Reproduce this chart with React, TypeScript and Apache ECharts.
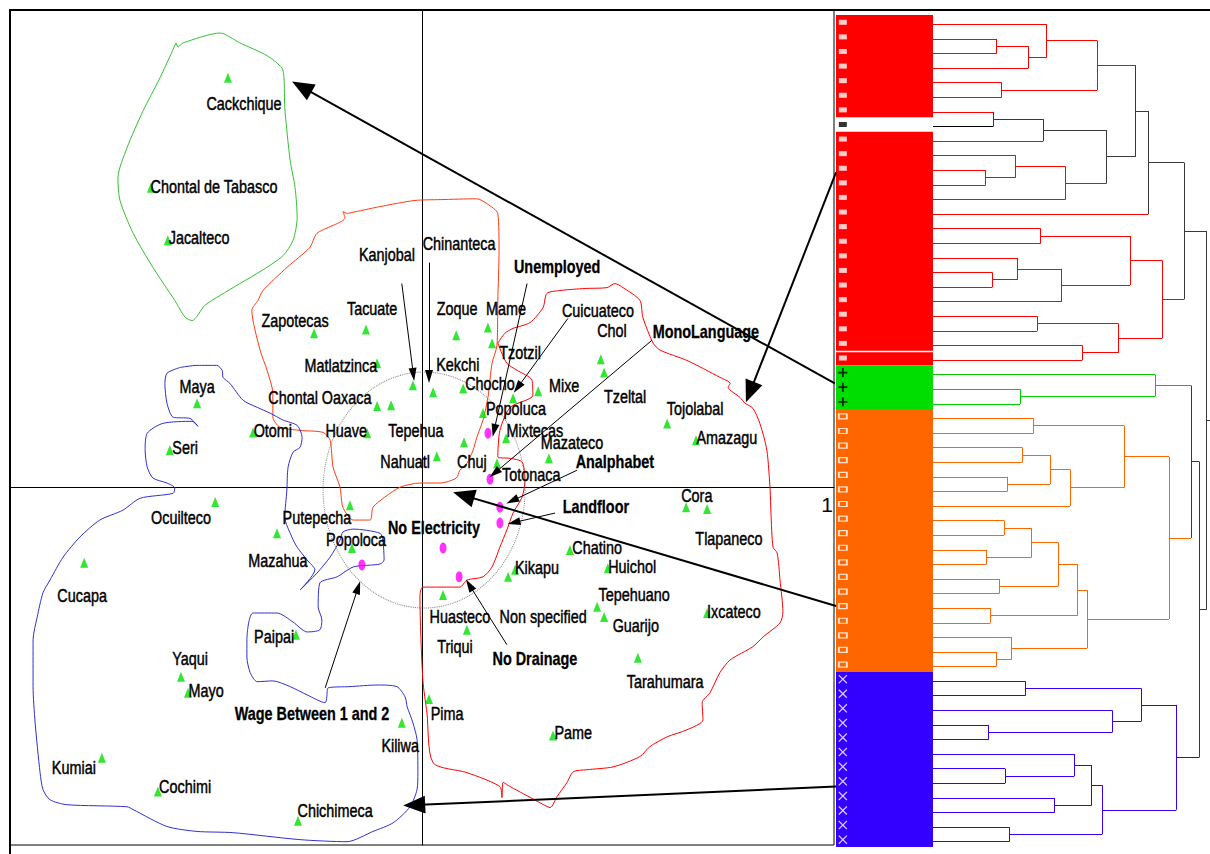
import React, { useEffect, useRef } from 'react';
import * as echarts from 'echarts';

const FONT = "'Liberation Sans', Arial, Helvetica, sans-serif";

// ---------- Factorial map data (x: axis 1, y: axis 2) ----------
// [name, pointX, pointY, labelX, labelY]
const languages: [string, number | null, number | null, number, number][] = [
  ['Cackchique', -0.471, 0.995, -0.432, 0.934],
  ['Chontal de Tabasco', -0.658, 0.728, -0.505, 0.731],
  ['Jacalteco', -0.617, 0.6, -0.541, 0.607],
  ['Kanjobal', -0.022, 0.248, -0.085, 0.566],
  ['Chinanteca', 0.027, 0.231, 0.09, 0.592],
  ['Zapotecas', -0.262, 0.374, -0.308, 0.405],
  ['Tacuate', -0.136, 0.383, -0.121, 0.434],
  ['Zoque', 0.083, 0.369, 0.085, 0.434],
  ['Mame', 0.16, 0.388, 0.204, 0.434],
  ['Tzotzil', 0.17, 0.35, 0.238, 0.328],
  ['Matlatzinca', -0.109, 0.301, -0.197, 0.296],
  ['Kekchi', 0.1, 0.24, 0.087, 0.299],
  ['Chocho', null, null, 0.165, 0.252],
  ['Cuicuateco', 0.221, 0.216, 0.427, 0.43],
  ['Mixe', 0.282, 0.233, 0.345, 0.248],
  ['Chontal Oaxaca', -0.109, 0.197, -0.248, 0.218],
  ['Tepehua', -0.075, 0.199, -0.015, 0.138],
  ['Otomi', -0.41, 0.133, -0.362, 0.138],
  ['Huave', -0.133, 0.131, -0.184, 0.138],
  ['Nahuatl', 0.036, 0.075, -0.041, 0.063],
  ['Chuj', 0.102, 0.109, 0.121, 0.063],
  ['Popoluca', 0.148, 0.18, 0.228, 0.192],
  ['Mixtecas', 0.204, 0.119, 0.274, 0.138],
  ['Totonaca', 0.182, 0.058, 0.265, 0.032],
  ['Mazateco', 0.308, 0.07, 0.364, 0.109],
  ['Chol', 0.434, 0.311, 0.461, 0.381],
  ['Tzeltal', 0.442, 0.279, 0.493, 0.221],
  ['Tojolabal', 0.595, 0.155, 0.663, 0.192],
  ['Amazagu', 0.665, 0.114, 0.74, 0.121],
  ['Cora', 0.641, -0.049, 0.667, -0.019],
  ['Tlapaneco', 0.692, -0.053, 0.745, -0.124],
  ['Chatino', 0.359, -0.153, 0.425, -0.146],
  ['Kikapu', 0.226, -0.201, 0.279, -0.194],
  ['Huichol', 0.451, -0.197, 0.51, -0.192],
  ['Tepehuano', 0.425, -0.291, 0.515, -0.26],
  ['Guarijo', 0.442, -0.316, 0.519, -0.337],
  ['Ixcateco', 0.692, -0.306, 0.757, -0.301],
  ['Huasteco', 0.051, -0.262, 0.092, -0.313],
  ['Non specified', 0.209, -0.218, 0.294, -0.313],
  ['Triqui', 0.109, -0.347, 0.08, -0.388],
  ['Tarahumara', 0.524, -0.415, 0.59, -0.471],
  ['Pima', 0.017, -0.515, 0.061, -0.551],
  ['Pame', 0.318, -0.604, 0.367, -0.597],
  ['Ocuilteco', -0.502, -0.036, -0.585, -0.073],
  ['Putepecha', -0.175, -0.044, -0.255, -0.073],
  ['Popoloca', -0.17, -0.148, -0.16, -0.126],
  ['Mazahua', -0.352, -0.112, -0.35, -0.177],
  ['Cucapa', -0.82, -0.184, -0.825, -0.262],
  ['Paipai', -0.306, -0.359, -0.359, -0.362],
  ['Yaqui', -0.585, -0.461, -0.563, -0.417],
  ['Mayo', -0.568, -0.5, -0.524, -0.493],
  ['Kiliwa', -0.049, -0.573, -0.053, -0.629],
  ['Kumiai', -0.777, -0.658, -0.845, -0.682],
  ['Cochimi', -0.641, -0.74, -0.575, -0.728],
  ['Chichimeca', -0.301, -0.811, -0.211, -0.786],
  ['Maya', -0.546, 0.204, -0.546, 0.245],
  ['Seri', -0.612, 0.09, -0.575, 0.097],
];

// [name, pointX, pointY, labelX, labelY]
const variables: [string, number, number, number, number][] = [
  ['Unemployed', 0.16, 0.131, 0.328, 0.536],
  ['MonoLanguage', 0.165, 0.019, 0.689, 0.379],
  ['Analphabet', 0.189, -0.049, 0.468, 0.063],
  ['Landfloor', 0.189, -0.087, 0.422, -0.046],
  ['No Electricity', 0.051, -0.148, 0.029, -0.097],
  ['No Drainage', 0.09, -0.218, 0.274, -0.417],
  ['Wage Between 1 and 2', -0.146, -0.189, -0.267, -0.549],
];

// pointer arrows [fromX, fromY, toX, toY]
const labelArrows: number[][] = [
  [-0.049, 0.495, -0.021, 0.274],
  [0.017, 0.546, 0.017, 0.269],
  [0.255, 0.495, 0.175, 0.138],
  [0.354, 0.41, 0.232, 0.242],
  [0.558, 0.357, 0.176, 0.034],
  [0.376, 0.041, 0.219, -0.033],
  [0.323, -0.063, 0.223, -0.086],
  [0.206, -0.383, 0.115, -0.238],
  [-0.235, -0.488, -0.155, -0.244],
];

// cluster arrows from dendrogram blocks to outlines
const clusterArrows: number[][] = [
  [1.002, 0.252, -0.292, 0.973],
  [1.005, 0.765, 0.796, 0.231],
  [1.005, -0.289, 0.101, -0.02],
  [1.005, -0.728, -0.019, -0.773],
];

const circleCenter = [0.005, -0.007];
const axisTickLabels: [string, number, number][] = [['1', 1, 0]];

const greenOutline: number[][] = [
  [-0.597, 1.08], [-0.592, 1.07], [-0.58, 1.08], [-0.49, 1.104], [-0.442, 1.08], [-0.376, 1.049],
  [-0.34, 1.019], [-0.335, 0.995], [-0.333, 0.922], [-0.32, 0.794], [-0.308, 0.728], [-0.303, 0.655],
  [-0.313, 0.6], [-0.337, 0.563], [-0.388, 0.527], [-0.442, 0.495], [-0.49, 0.466], [-0.527, 0.442],
  [-0.558, 0.405], [-0.575, 0.413], [-0.6, 0.454], [-0.653, 0.534], [-0.701, 0.617], [-0.733, 0.697],
  [-0.738, 0.752], [-0.716, 0.825], [-0.677, 0.915], [-0.636, 0.995], [-0.597, 1.08],
];

const orangeOutline: number[][] = [
  [-0.182, 0.665], [-0.102, 0.682], [-0.017, 0.697], [0.044, 0.699], [0.133, 0.701], [0.158, 0.689],
  [0.184, 0.665], [0.187, 0.575], [0.184, 0.454], [0.182, 0.345], [0.17, 0.301], [0.16, 0.218],
  [0.148, 0.163], [0.133, 0.121], [0.124, 0.09], [0.109, 0.058], [0.092, 0.041], [0.083, 0.022],
  [0.044, 0.01], [-0.005, 0.01], [-0.053, 0.0], [-0.09, -0.024], [-0.119, -0.049], [-0.126, -0.08],
  [-0.167, -0.08], [-0.192, -0.049], [-0.199, 0.0], [-0.216, 0.049], [-0.223, 0.114], [-0.24, 0.133],
  [-0.296, 0.138], [-0.345, 0.146], [-0.362, 0.17], [-0.362, 0.228], [-0.376, 0.284], [-0.393, 0.333],
  [-0.413, 0.43], [-0.398, 0.454], [-0.386, 0.478], [-0.328, 0.534], [-0.272, 0.583], [-0.255, 0.617],
  [-0.187, 0.655], [-0.192, 0.67], [-0.182, 0.665],
];

const redOutline: number[][] = [
  [0.184, 0.35], [0.201, 0.374], [0.221, 0.386], [0.262, 0.4], [0.294, 0.437], [0.303, 0.471],
  [0.335, 0.478], [0.396, 0.483], [0.449, 0.485], [0.468, 0.495], [0.488, 0.485], [0.529, 0.454],
  [0.536, 0.413], [0.561, 0.35], [0.578, 0.333], [0.643, 0.308], [0.723, 0.267], [0.748, 0.252],
  [0.743, 0.243], [0.772, 0.218], [0.784, 0.204], [0.803, 0.192], [0.82, 0.155], [0.837, 0.09],
  [0.845, -0.007], [0.847, -0.063], [0.852, -0.146], [0.862, -0.16], [0.869, -0.226], [0.876, -0.303],
  [0.869, -0.33], [0.828, -0.364], [0.803, -0.388], [0.748, -0.42], [0.723, -0.451], [0.699, -0.5],
  [0.68, -0.524], [0.682, -0.566], [0.643, -0.59], [0.595, -0.607], [0.553, -0.631], [0.529, -0.655],
  [0.464, -0.68], [0.4, -0.687], [0.367, -0.692], [0.352, -0.718], [0.328, -0.752], [0.311, -0.779],
  [0.286, -0.767], [0.214, -0.728], [0.197, -0.718], [0.194, -0.755], [0.189, -0.728], [0.109, -0.694],
  [0.027, -0.67], [0.012, -0.549], [0.002, -0.468], [-0.005, -0.267], [0.002, -0.243], [0.092, -0.243],
  [0.109, -0.226], [0.148, -0.218], [0.17, -0.194], [0.189, -0.146], [0.206, -0.104], [0.221, -0.063],
  [0.243, -0.024], [0.25, 0.017], [0.243, 0.061], [0.214, 0.07], [0.184, 0.073], [0.189, 0.138],
  [0.214, 0.194], [0.269, 0.223], [0.267, 0.26], [0.231, 0.284], [0.206, 0.301], [0.184, 0.35],
];

const blueOutline: number[][] = [
  [-0.587, 0.291], [-0.546, 0.296], [-0.498, 0.296], [-0.485, 0.284], [-0.483, 0.267], [-0.466, 0.252],
  [-0.434, 0.211], [-0.4, 0.194], [-0.369, 0.18], [-0.337, 0.163], [-0.303, 0.15], [-0.291, 0.121],
  [-0.296, 0.097], [-0.313, 0.085], [-0.325, 0.049], [-0.328, -0.007], [-0.333, -0.073], [-0.316, -0.121],
  [-0.303, -0.146], [-0.279, -0.177], [-0.26, -0.201], [-0.296, -0.25], [-0.255, -0.209], [-0.223, -0.17],
  [-0.199, -0.129], [-0.192, -0.109], [-0.167, -0.102], [-0.102, -0.112], [-0.095, -0.129], [-0.092, -0.177],
  [-0.102, -0.187], [-0.167, -0.194], [-0.206, -0.218], [-0.248, -0.233], [-0.252, -0.291], [-0.243, -0.323],
  [-0.248, -0.347], [-0.279, -0.352], [-0.313, -0.328], [-0.352, -0.306], [-0.41, -0.306], [-0.425, -0.371],
  [-0.425, -0.413], [-0.417, -0.451], [-0.4, -0.473], [-0.362, -0.471], [-0.32, -0.485], [-0.279, -0.505],
  [-0.235, -0.524], [-0.231, -0.51], [-0.228, -0.488], [-0.175, -0.485], [-0.109, -0.481], [-0.061, -0.485],
  [-0.041, -0.51], [-0.036, -0.534], [-0.022, -0.573], [-0.012, -0.614], [-0.01, -0.694], [-0.012, -0.735],
  [-0.029, -0.777], [-0.07, -0.816], [-0.119, -0.837], [-0.182, -0.862], [-0.296, -0.857], [-0.459, -0.84],
  [-0.546, -0.837], [-0.619, -0.825], [-0.701, -0.784], [-0.716, -0.777], [-0.862, -0.772], [-0.903, -0.76],
  [-0.92, -0.735], [-0.927, -0.694], [-0.939, -0.573], [-0.944, -0.485], [-0.944, -0.371], [-0.934, -0.316],
  [-0.92, -0.257], [-0.903, -0.226], [-0.871, -0.17], [-0.83, -0.121], [-0.782, -0.08], [-0.726, -0.056],
  [-0.684, -0.027], [-0.604, -0.015], [-0.6, -0.002], [-0.619, 0.01], [-0.653, 0.022], [-0.667, 0.049],
  [-0.672, 0.09], [-0.667, 0.131], [-0.629, 0.155], [-0.558, 0.16], [-0.544, 0.148], [-0.563, 0.167],
  [-0.604, 0.17], [-0.619, 0.204], [-0.624, 0.252], [-0.619, 0.277], [-0.587, 0.291],
];

// ---------- Dendrogram data ----------
// blocks of leaves, top to bottom: [cluster, count]
const rowBlocks: [string, number][] = [
  ['red', 7], ['none', 1], ['red', 15], ['red', 1], ['green', 3], ['orange', 18], ['blue', 12],
];

// merges [nodeA, nodeB, height]; leaves are 0..56, merge k creates node 57+k
const merges: [number, number, number][] = [
  [1, 2, 0.637], [57, 3, 0.953], [0, 58, 1.137], [4, 5, 0.687], [59, 60, 1.643],
  [6, 7, 0.603], [62, 8, 1.103], [10, 11, 0.527], [9, 64, 0.827], [65, 12, 1.327],
  [63, 66, 1.737], [61, 67, 2.027], [68, 13, 2.153], [14, 15, 1.077], [17, 18, 0.593],
  [16, 71, 0.847], [72, 19, 1.287], [70, 73, 1.97], [20, 21, 1.043], [22, 23, 1.493],
  [75, 76, 1.853], [74, 77, 2.293], [69, 78, 2.51],
  [25, 26, 0.87], [24, 80, 2.22],
  [27, 28, 1.007], [29, 30, 0.893], [31, 32, 0.743], [83, 84, 1.17], [85, 33, 1.37],
  [82, 86, 1.91], [34, 35, 0.71], [36, 37, 0.533], [88, 89, 0.987], [38, 39, 0.663],
  [90, 91, 1.253], [40, 41, 0.573], [92, 93, 1.447], [43, 44, 0.63], [42, 95, 0.787],
  [94, 96, 1.54], [87, 97, 2.36], [81, 98, 2.58],
  [45, 46, 0.923], [48, 49, 0.557], [47, 101, 1.793], [100, 102, 2.083], [51, 52, 0.72],
  [50, 104, 1.413], [53, 54, 1.217], [105, 106, 1.587], [55, 56, 0.763], [107, 108, 1.69],
  [103, 109, 2.433], [99, 110, 2.663], [79, 111, 2.737],
];
const dendroMax = 2.77;

const LINE_COLORS: Record<string, string> = {
  red: '#ff0000', green: '#00cc00', orange: '#ff6600', blue: '#3300ff', none: '#000000', mixed: '#3a3a3a',
};
const CELL_COLORS: Record<string, string> = {
  red: '#ff0000', green: '#00dd00', orange: '#ff6600', blue: '#3300ff', none: 'rgba(0,0,0,0)',
};

function buildOption() {
  // leaves
  const leafCluster: string[] = [];
  const cellBlocks: [string, number, number, number][] = [];
  rowBlocks.forEach(([c, n], i) => {
    const start = leafCluster.length;
    for (let k = 0; k < n; k++) leafCluster.push(c);
    const gap = i > 0 && rowBlocks[i - 1][0] === c ? 1.5 : 0;
    cellBlocks.push([c, start, start + n - 1, gap]);
  });

  // dendrogram segments
  const nodeY: number[] = leafCluster.map((_, i) => i);
  const nodeH: number[] = leafCluster.map(() => 0);
  const nodeC: string[] = [...leafCluster];
  const segs: any[] = [];
  merges.forEach(([a, b, h]) => {
    const c = nodeC[a] === nodeC[b] ? nodeC[a] : 'mixed';
    segs.push({ coords: [[nodeH[a], nodeY[a]], [h, nodeY[a]]], lineStyle: { color: LINE_COLORS[nodeC[a]] } });
    segs.push({ coords: [[nodeH[b], nodeY[b]], [h, nodeY[b]]], lineStyle: { color: LINE_COLORS[nodeC[b]] } });
    segs.push({ coords: [[h, nodeY[a]], [h, nodeY[b]]], lineStyle: { color: LINE_COLORS[c] } });
    nodeY.push((nodeY[a] + nodeY[b]) / 2);
    nodeH.push(h);
    nodeC.push(c);
  });
  const root = nodeY.length - 1;
  segs.push({ coords: [[nodeH[root], nodeY[root]], [dendroMax, nodeY[root]]], lineStyle: { color: LINE_COLORS.mixed } });

  const markerX = 0.08;
  const rowsOf = (c: string) => leafCluster.map((v, i) => (v === c ? [markerX, i] : null)).filter(Boolean);

  const outline = (data: number[][], color: string) => ({
    type: 'line', xAxisIndex: 0, yAxisIndex: 0, data, showSymbol: false, symbol: 'none', smooth: 0.25,
    lineStyle: { color, width: 1 }, silent: true, z: 2,
  });

  const labelSeries = (items: any[], bold: boolean) => ({
    type: 'custom', xAxisIndex: 0, yAxisIndex: 0, z: 5,
    data: items.map((d) => [d[3], d[4]]),
    renderItem: (params: any, api: any) => {
      const p = api.coord([api.value(0), api.value(1)]);
      return {
        type: 'text', x: p[0], y: p[1], scaleX: 0.8,
        style: {
          text: items[params.dataIndex][0], fill: '#000', fontSize: 18, fontFamily: FONT,
          fontWeight: bold ? 'bold' : 'normal', align: 'center', verticalAlign: 'middle',
          stroke: '#000', lineWidth: bold ? 0.3 : 0.45,
        },
      };
    },
  });

  const arrowSeries = (arr: number[][], width: number, head: number[]) => ({
    type: 'lines', coordinateSystem: 'cartesian2d', xAxisIndex: 0, yAxisIndex: 0, z: 6,
    polyline: false, clip: false,
    symbol: ['none', 'triangle'], symbolSize: [1, head],
    lineStyle: { color: '#000', width, opacity: 1, curveness: 0 },
    data: arr.map((a) => ({ coords: [[a[0], a[1]], [a[2], a[3]]] })),
  });

  return {
    animation: false,
    backgroundColor: '#ffffff',
    textStyle: { fontFamily: FONT },
    grid: [
      { left: 10, top: 10, width: 824, height: 835, show: true, borderColor: '#000', borderWidth: 1, backgroundColor: 'transparent', outerBoundsMode: 'none', containLabel: false },
      { left: 835, top: 15, width: 98, height: 832, outerBoundsMode: 'none', containLabel: false },
      { left: 933, top: 17, width: 277, height: 832, outerBoundsMode: 'none', containLabel: false },
    ],
    xAxis: [
      {
        gridIndex: 0, type: 'value', min: -1, max: 1, interval: 1,
        axisLine: { show: true, onZero: true, lineStyle: { color: '#000', width: 1 } },
        axisTick: { show: false }, splitLine: { show: false }, axisLabel: { show: false },
      },
      { gridIndex: 1, type: 'value', min: 0, max: 1, show: false },
      { gridIndex: 2, type: 'value', min: 0, max: dendroMax, show: false },
    ],
    yAxis: [
      {
        gridIndex: 0, type: 'value', min: -0.87, max: 1.16,
        axisLine: { show: true, onZero: true, lineStyle: { color: '#000', width: 1 } },
        axisTick: { show: false }, splitLine: { show: false }, axisLabel: { show: false },
      },
      { gridIndex: 1, type: 'value', min: -0.5, max: 56.5, inverse: true, show: false },
      { gridIndex: 2, type: 'value', min: -0.5, max: 56.5, inverse: true, show: false },
    ],
    graphic: [
      { type: 'line', z: 100, shape: { x1: 9, y1: 10, x2: 1210, y2: 10 }, style: { stroke: '#000', lineWidth: 2 } },
      { type: 'line', z: 100, shape: { x1: 10, y1: 9, x2: 10, y2: 854 }, style: { stroke: '#000', lineWidth: 2 } },
    ],
    series: [
      outline(greenOutline, '#33c033'),
      outline(orangeOutline, '#ff3a10'),
      outline(redOutline, '#ff0000'),
      outline(blueOutline, '#3030d0'),
      {
        type: 'scatter', xAxisIndex: 0, yAxisIndex: 0, data: [circleCenter], symbol: 'circle',
        symbolSize: [202, 236], silent: true, z: 3,
        itemStyle: { color: 'rgba(0,0,0,0)', borderColor: '#666', borderWidth: 1, borderType: 'dotted' },
      },
      {
        type: 'scatter', xAxisIndex: 0, yAxisIndex: 0, symbol: 'triangle', symbolSize: [8, 10], z: 4,
        data: languages.filter((l) => l[1] !== null).map((l) => [l[1], l[2]]),
        itemStyle: { color: '#00e000' },
      },
      {
        type: 'scatter', xAxisIndex: 0, yAxisIndex: 0, symbol: 'circle', symbolSize: [7, 11], z: 4,
        data: variables.map((v) => [v[1], v[2]]),
        itemStyle: { color: '#ff00ff' },
      },
      labelSeries(languages, false),
      labelSeries(variables, true),
      {
        type: 'custom', xAxisIndex: 0, yAxisIndex: 0, z: 5,
        data: axisTickLabels.map((t) => [t[1], t[2]]),
        renderItem: (params: any, api: any) => {
          const p = api.coord([api.value(0), api.value(1)]);
          return {
            type: 'text', x: p[0] - 1, y: p[1] + 7,
            style: {
              text: axisTickLabels[params.dataIndex][0], fill: '#000', fontSize: 21, fontFamily: FONT,
              align: 'right', verticalAlign: 'top',
            },
          };
        },
      },
      arrowSeries(labelArrows, 1, [8, 13]),
      arrowSeries(clusterArrows, 2, [18, 22]),
      {
        type: 'custom', xAxisIndex: 1, yAxisIndex: 1, z: 2,
        data: cellBlocks.map((b) => [0.5, b[1]]),
        renderItem: (params: any, api: any) => {
          const [c, start, end, gap] = cellBlocks[params.dataIndex];
          const p1 = api.coord([0, start - 0.5]);
          const p2 = api.coord([1, end + 0.5]);
          return {
            type: 'rect',
            shape: { x: p1[0] + 1, y: p1[1] + gap, width: p2[0] - p1[0] - 1, height: p2[1] - p1[1] - gap },
            style: { fill: CELL_COLORS[c] },
          };
        },
      },
      {
        type: 'scatter', xAxisIndex: 1, yAxisIndex: 1, z: 3, symbol: 'rect', symbolSize: [8, 5],
        data: rowsOf('red'), itemStyle: { color: '#ffffff' },
      },
      {
        type: 'scatter', xAxisIndex: 1, yAxisIndex: 1, z: 3, symbol: 'rect', symbolSize: [8, 5],
        data: rowsOf('none'), itemStyle: { color: '#000000' },
      },
      {
        type: 'scatter', xAxisIndex: 1, yAxisIndex: 1, z: 3,
        symbol: 'path://M4,0H6V4H10V6H6V10H4V6H0V4H4Z', symbolSize: [9, 9],
        data: rowsOf('green'), itemStyle: { color: '#000000' },
      },
      {
        type: 'scatter', xAxisIndex: 1, yAxisIndex: 1, z: 3, symbol: 'rect', symbolSize: [8, 5],
        data: rowsOf('orange'), itemStyle: { color: '#ff6600', borderColor: '#ffffff', borderWidth: 1.5 },
      },
      {
        type: 'scatter', xAxisIndex: 1, yAxisIndex: 1, z: 3,
        symbol: 'path://M1,0L5,4L9,0L10,1L6,5L10,9L9,10L5,6L1,10L0,9L4,5L0,1Z', symbolSize: [9, 9],
        data: rowsOf('blue'), itemStyle: { color: '#ffffff' },
      },
      {
        type: 'lines', coordinateSystem: 'cartesian2d', xAxisIndex: 2, yAxisIndex: 2, z: 2,
        polyline: false, clip: false, symbol: 'none',
        lineStyle: { width: 1, opacity: 1, curveness: 0 },
        data: segs,
      },
    ],
  };
}

export default function App() {
  const ref = useRef<HTMLDivElement>(null);
  useEffect(() => {
    const chart = echarts.init(ref.current as HTMLDivElement, null, { renderer: 'svg' });
    chart.setOption(buildOption() as any);
    return () => chart.dispose();
  }, []);
  return (
    <div
      ref={ref}
      style={{ position: 'absolute', left: 0, top: 0, width: 1210, height: 854, background: '#fff' }}
    />
  );
}
